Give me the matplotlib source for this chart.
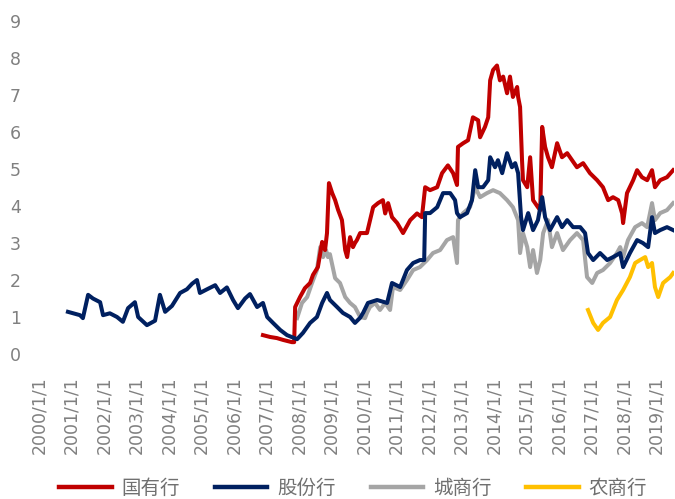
import matplotlib
matplotlib.use("Agg")
import matplotlib.pyplot as plt

# year fractions and values for each bank group
gy_years = [2006.89, 2007.11, 2007.32, 2007.51, 2007.78, 2007.85, 2007.88, 2008.03, 2008.18, 2008.34,
            2008.43, 2008.58, 2008.71, 2008.80, 2008.86, 2008.92, 2009.02, 2009.11, 2009.20, 2009.32,
            2009.42, 2009.48, 2009.57, 2009.66, 2009.72, 2009.78, 2009.88, 2010.09, 2010.28, 2010.43,
            2010.58, 2010.65, 2010.74, 2010.86, 2011.02, 2011.20, 2011.42, 2011.63, 2011.78, 2011.88,
            2012.03, 2012.25, 2012.40, 2012.58, 2012.74, 2012.86, 2012.89, 2013.05, 2013.20, 2013.35,
            2013.51, 2013.57, 2013.72, 2013.82, 2013.88, 2013.97, 2014.09, 2014.18, 2014.28, 2014.40,
            2014.49, 2014.58, 2014.71, 2014.74, 2014.80, 2014.86, 2014.89, 2015.02, 2015.11, 2015.20,
            2015.35, 2015.42, 2015.48, 2015.57, 2015.66, 2015.78, 2015.94, 2016.09, 2016.25, 2016.40,
            2016.55, 2016.74, 2016.95, 2017.17, 2017.35, 2017.51, 2017.66, 2017.82, 2017.94, 2017.97,
            2018.09, 2018.28, 2018.40, 2018.55, 2018.71, 2018.86, 2018.95, 2019.11, 2019.32, 2019.51]
gy_vals = [0.51, 0.46, 0.43, 0.38, 0.32, 0.32, 1.27, 1.54, 1.78, 1.92,
           2.14, 2.35, 3.03, 2.81, 3.27, 4.62, 4.35, 4.16, 3.90, 3.62,
           2.81, 2.62, 3.16, 2.89, 3.00, 3.08, 3.27, 3.27, 3.97, 4.08,
           4.16, 3.80, 4.08, 3.70, 3.54, 3.27, 3.62, 3.80, 3.70, 4.51,
           4.43, 4.51, 4.89, 5.10, 4.89, 4.57, 5.60, 5.70, 5.78, 6.40,
           6.32, 5.86, 6.14, 6.40, 7.40, 7.68, 7.80, 7.40, 7.50, 7.05,
           7.50, 6.95, 7.22, 6.95, 6.68, 5.24, 4.70, 4.51, 5.32, 4.16,
           3.97, 3.89, 6.14, 5.60, 5.32, 5.05, 5.70, 5.32, 5.43, 5.24,
           5.05, 5.16, 4.89, 4.70, 4.51, 4.16, 4.24, 4.16, 3.80, 3.54,
           4.35, 4.70, 4.97, 4.78, 4.70, 4.97, 4.51, 4.70, 4.78, 4.97]

gf_years = [2000.89, 2001.26, 2001.35, 2001.51, 2001.66, 2001.88, 2001.97, 2002.18, 2002.40, 2002.58,
            2002.74, 2002.95, 2003.05, 2003.32, 2003.57, 2003.72, 2003.88, 2004.09, 2004.34, 2004.55,
            2004.71, 2004.86, 2004.95, 2005.17, 2005.42, 2005.57, 2005.78, 2005.97, 2006.12, 2006.34,
            2006.49, 2006.71, 2006.89, 2007.02, 2007.20, 2007.42, 2007.63, 2007.94, 2008.12, 2008.34,
            2008.55, 2008.71, 2008.86, 2008.95, 2009.17, 2009.35, 2009.57, 2009.72, 2009.88, 2009.97,
            2010.12, 2010.40, 2010.71, 2010.86, 2011.11, 2011.32, 2011.51, 2011.72, 2011.85, 2011.88,
            2012.03, 2012.25, 2012.43, 2012.65, 2012.80, 2012.86, 2012.95, 2013.17, 2013.32, 2013.42,
            2013.51, 2013.66, 2013.82, 2013.88, 2014.03, 2014.12, 2014.25, 2014.40, 2014.55, 2014.65,
            2014.74, 2014.83, 2014.89, 2015.05, 2015.20, 2015.35, 2015.48, 2015.57, 2015.72, 2015.94,
            2016.09, 2016.25, 2016.43, 2016.65, 2016.80, 2016.89, 2017.05, 2017.26, 2017.48, 2017.66,
            2017.88, 2017.97, 2018.18, 2018.40, 2018.58, 2018.74, 2018.86, 2018.95, 2019.11, 2019.32,
            2019.51]
gf_vals = [1.14, 1.05, 0.97, 1.60, 1.50, 1.40, 1.05, 1.10, 1.00, 0.87,
           1.24, 1.40, 1.00, 0.78, 0.90, 1.60, 1.14, 1.30, 1.65, 1.75,
           1.90, 2.00, 1.65, 1.75, 1.86, 1.65, 1.80, 1.46, 1.24, 1.50,
           1.62, 1.27, 1.38, 1.00, 0.84, 0.65, 0.51, 0.40, 0.57, 0.84,
           1.00, 1.38, 1.65, 1.46, 1.27, 1.11, 1.00, 0.84, 0.98, 1.11,
           1.38, 1.46, 1.38, 1.92, 1.81, 2.27, 2.46, 2.54, 2.54, 3.81,
           3.81, 3.97, 4.35, 4.35, 4.16, 3.81, 3.70, 3.81, 4.16, 4.97,
           4.51, 4.51, 4.70, 5.32, 5.05, 5.24, 4.89, 5.43, 5.05, 5.16,
           4.89, 3.70, 3.35, 3.81, 3.35, 3.62, 4.24, 3.70, 3.35, 3.70,
           3.43, 3.62, 3.43, 3.43, 3.27, 2.73, 2.54, 2.73, 2.54, 2.62,
           2.73, 2.35, 2.73, 3.08, 3.00, 2.89, 3.70, 3.27, 3.35, 3.43,
           3.35]

cs_years = [2007.94, 2008.09, 2008.25, 2008.40, 2008.55, 2008.65, 2008.74, 2008.83, 2008.89, 2008.95,
            2009.11, 2009.26, 2009.42, 2009.57, 2009.72, 2009.88, 2010.03, 2010.09, 2010.18, 2010.34,
            2010.49, 2010.65, 2010.80, 2010.89, 2011.11, 2011.32, 2011.51, 2011.72, 2011.94, 2012.12,
            2012.34, 2012.55, 2012.74, 2012.86, 2012.89, 2013.05, 2013.26, 2013.42, 2013.57, 2013.78,
            2013.97, 2014.18, 2014.40, 2014.58, 2014.74, 2014.80, 2014.89, 2015.02, 2015.11, 2015.20,
            2015.32, 2015.42, 2015.51, 2015.66, 2015.78, 2015.94, 2016.12, 2016.34, 2016.55, 2016.74,
            2016.86, 2017.02, 2017.17, 2017.35, 2017.57, 2017.78, 2017.88, 2017.97, 2018.12, 2018.34,
            2018.55, 2018.71, 2018.86, 2018.95, 2019.11, 2019.32, 2019.51]
cs_vals = [0.97, 1.38, 1.54, 1.92, 2.27, 2.89, 2.62, 2.81, 2.62, 2.70,
           2.05, 1.92, 1.54, 1.38, 1.27, 1.00, 0.97, 1.11, 1.27, 1.38,
           1.19, 1.38, 1.19, 1.81, 1.73, 2.00, 2.27, 2.35, 2.54, 2.73,
           2.81, 3.08, 3.16, 2.46, 3.62, 3.81, 3.97, 4.51, 4.24, 4.35,
           4.43, 4.35, 4.16, 3.97, 3.62, 2.73, 3.27, 2.89, 2.35, 2.81,
           2.19, 2.54, 3.27, 3.62, 2.89, 3.27, 2.81, 3.08, 3.27, 3.08,
           2.08, 1.92, 2.19, 2.27, 2.46, 2.73, 2.89, 2.62, 3.08, 3.43,
           3.54, 3.43, 4.08, 3.62, 3.81, 3.89, 4.08]

ns_years = [2016.89, 2017.05, 2017.20, 2017.35, 2017.57, 2017.78, 2017.97, 2018.18, 2018.34, 2018.49,
            2018.65, 2018.74, 2018.86, 2018.95, 2019.05, 2019.20, 2019.42, 2019.51]
ns_vals = [1.19, 0.84, 0.65, 0.84, 1.00, 1.46, 1.73, 2.08, 2.46, 2.54,
           2.62, 2.35, 2.46, 1.81, 1.54, 1.92, 2.08, 2.19]

names = ["国有行", "股份行", "城商行", "农商行"]
colors = ["#C00000", "#002060", "#A5A5A5", "#FFC000"]
tick_years = list(range(2000, 2020))
tick_labels = [f"{y}/1/1" for y in tick_years]

fig = plt.figure(figsize=(6.75, 4.99), dpi=100)
ax = fig.add_axes([0.0578, 0.2906, 0.9414, 0.667])

series = [(gy_years, gy_vals), (gf_years, gf_vals), (cs_years, cs_vals), (ns_years, ns_vals)]
order = [2, 3, 0, 1]  # grey and yellow underneath
for i in order:
    xs, ys = series[i]
    ax.plot(xs, ys, color=colors[i], lw=2.9, label=names[i], solid_joinstyle="round")

ax.set_xlim(2000, 2019.55)
ax.set_ylim(0, 9)
ax.set_yticks(range(0, 10))
ax.set_xticks(tick_years)
ax.set_xticklabels(tick_labels, rotation=90)
ax.tick_params(axis="both", length=0, labelsize=12.5, labelcolor="#808080")
ax.tick_params(axis="x", pad=16)
ax.tick_params(axis="y", pad=13)
for s in ax.spines.values():
    s.set_visible(False)

handles, labels = ax.get_legend_handles_labels()
lookup = dict(zip(labels, handles))
leg = fig.legend([lookup[n] for n in names], names, loc="center", bbox_to_anchor=(0.523, 0.022),
                 ncol=4, frameon=False, handlelength=2.7, handletextpad=0.5, columnspacing=1.8,
                 prop={"family": ["Noto Sans CJK SC", "DejaVu Sans"], "size": 14})
for t in leg.get_texts():
    t.set_color("#707070")
for h in leg.get_lines():
    h.set_linewidth(3.2)

fig.savefig("out.png", dpi=100)
